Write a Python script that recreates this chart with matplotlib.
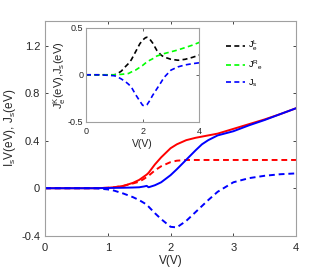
import numpy as np
import matplotlib
matplotlib.use('Agg')
import matplotlib.pyplot as plt

plt.rcParams['font.family'] = ['Liberation Sans', 'DejaVu Sans']
plt.rcParams['mathtext.fontset'] = 'custom'
plt.rcParams['mathtext.rm'] = 'Liberation Sans'
plt.rcParams['mathtext.it'] = 'Liberation Sans'

# main panel data
v = [0, 0.5, 0.8, 1.0, 1.1, 1.25, 1.4, 1.5, 1.58, 1.62, 1.65, 1.75, 1.85, 2.0, 2.1,
     2.25, 2.4, 2.5, 2.6, 2.75, 3.0, 3.25, 3.5, 3.75, 4.0]
is_v = [0, 0, 0.0, 0.004, 0.008, 0.02, 0.045, 0.07, 0.1, 0.115, 0.13, 0.2, 0.26,
        0.337, 0.37, 0.405, 0.425, 0.435, 0.445, 0.46, 0.5, 0.54, 0.58, 0.625, 0.674]
is_dash = [0, 0, 0.0, 0.004, 0.008, 0.02, 0.04, 0.055, 0.08, 0.095, 0.105, 0.15, 0.185,
           0.22, 0.232, 0.238, 0.238, 0.238, 0.238, 0.238, 0.238, 0.238, 0.238, 0.238, 0.238]
is_blue = [0, 0, 0.0, 0.002, 0.003, 0.004, 0.006, 0.008, 0.015, 0.02, 0.008, 0.025,
           0.05, 0.11, 0.16, 0.24, 0.32, 0.37, 0.405, 0.445, 0.48, 0.53, 0.575, 0.625, 0.674]
js = [0, 0, 0.0, -0.01, -0.02, -0.045, -0.075, -0.1, -0.125, -0.14, -0.155, -0.21,
      -0.26, -0.325, -0.33, -0.275, -0.2, -0.15, -0.1, -0.03, 0.05, 0.085, 0.105, 0.118, 0.125]

# inset data
vi = [0, 0.5, 1.0, 1.1, 1.25, 1.4, 1.5, 1.6, 1.75, 1.9, 2.0, 2.1, 2.15, 2.25, 2.35,
      2.5, 2.65, 2.75, 3.0, 3.25, 3.5, 3.75, 4.0]
je_l = [0, 0, 0, 0.01, 0.04, 0.09, 0.12, 0.16, 0.245, 0.33, 0.37, 0.395, 0.4, 0.38,
        0.34, 0.26, 0.21, 0.19, 0.165, 0.155, 0.165, 0.185, 0.21]
je_r = [0, 0, 0, 0.002, 0.005, 0.01, 0.014, 0.03, 0.05, 0.08, 0.1, 0.125, 0.135, 0.155,
        0.17, 0.2, 0.215, 0.225, 0.245, 0.265, 0.29, 0.315, 0.345]
js_i = [0, 0, -0.01, -0.02, -0.045, -0.075, -0.1, -0.13, -0.21, -0.28, -0.325, -0.33,
        -0.32, -0.275, -0.22, -0.15, -0.08, -0.03, 0.05, 0.085, 0.105, 0.118, 0.128]

fig = plt.figure(figsize=(3.27, 2.73), dpi=100)
ax = fig.add_axes([0.1376, 0.1366, 0.768, 0.787])
ax.plot(v, is_v, color='red', lw=1.4)
ax.plot(v, is_dash, color='red', lw=1.4, ls='--', dashes=(3, 2))
ax.plot(v, is_blue, color='blue', lw=1.4)
ax.plot(v, js, color='blue', lw=1.4, ls='--', dashes=(3, 2))
ax.set_xlim(0, 4)
ax.set_ylim(-0.4, 1.41)
ax.set_xticks([0, 1, 2, 3, 4])
ax.set_yticks([-0.4, 0, 0.4, 0.8, 1.2])
ax.set_yticklabels(['-0.4', '0', '0.4', '0.8', '1.2'])
ax.tick_params(direction='in', length=2.5, width=0.6, labelsize=8, colors='#262626',
               top=True, right=True)
ax.tick_params(axis='x', pad=5)
for s in ax.spines.values():
    s.set_color('#a0a0a0')
    s.set_linewidth(0.8)
ax.set_xlabel('V(V)', fontsize=8.5, color='#262626', labelpad=2)
ax.set_ylabel('I$_s$V(eV), J$_s$(eV)', fontsize=8.5, color='#262626', labelpad=2)

ins = fig.add_axes([0.263, 0.554, 0.3465, 0.344])
l1, = ins.plot(vi, je_l, color='black', lw=1.2, ls='--', dashes=(3, 2))
l2, = ins.plot(vi, je_r, color='#00ff00', lw=1.2, ls='--', dashes=(3, 2))
l3, = ins.plot(vi, js_i, color='blue', lw=1.2, ls='--', dashes=(3, 2))
ins.set_xlim(0, 4)
ins.set_ylim(-0.5, 0.5)
ins.set_xticks([0, 2, 4])
ins.set_yticks([-0.5, 0, 0.5])
ins.set_yticklabels(['-0.5', '0', '0.5'])
ins.tick_params(direction='in', length=2, width=0.5, labelsize=6.5, colors='#262626',
                top=True, right=True, pad=2)
ins.tick_params(axis='x', pad=4)
for s in ins.spines.values():
    s.set_color('#a0a0a0')
    s.set_linewidth(0.8)
ins.set_xlabel('V(V)', fontsize=7.5, color='#262626', labelpad=2)
ins.set_ylabel('J$_e^K$(eV),J$_s$(eV)', fontsize=8, color='#262626', labelpad=0)

fig.legend([l1, l2, l3], ['J$_e^L$', 'J$^R$$_e$', 'J$_s$'], loc='center left',
           bbox_to_anchor=(0.665, 0.765), frameon=False, fontsize=6.5,
           handlelength=2.2, labelspacing=0.6, handletextpad=0.3)

fig.savefig('out.png', dpi=100)
